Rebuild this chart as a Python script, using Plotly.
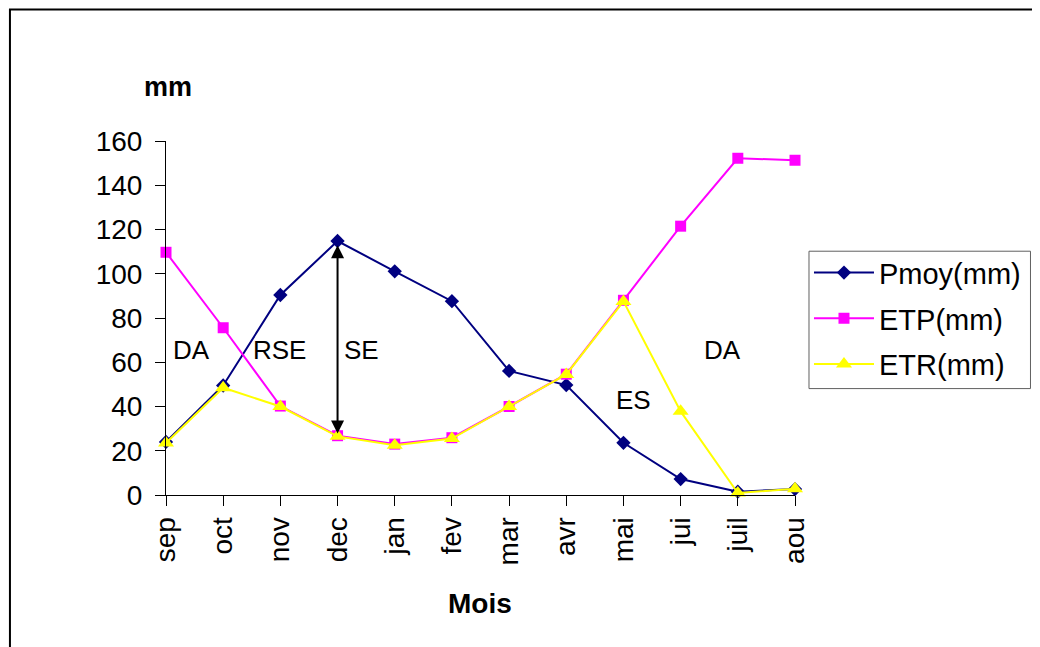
import plotly.graph_objects as go

months = ["sep", "oct", "nov", "dec", "jan", "fev", "mar", "avr", "mai", "jui", "juil", "aou"]
pmoy = [24, 49.5, 90.4, 114.8, 101.1, 87.6, 56.1, 49.7, 23.6, 7.2, 1.5, 2.7]
etp = [109.7, 75.6, 40.2, 26.8, 23, 25.9, 40, 54.6, 88, 121.5, 152.2, 151.3]
etr = [23.5, 48.5, 40, 26.5, 22.5, 25.5, 40, 54.5, 87.5, 37.8, 0.9, 2.8]

zone_labels = ["DA", "RSE", "SE", "ES", "DA"]
zone_x = [0.44, 1.99, 3.42, 8.18, 9.74]
zone_y = [65.5, 65.5, 65.5, 42.9, 65.5]

arrow_month = 3
arrow_top = 112.9
arrow_bottom = 27.1

FONT = "Liberation Sans, Arial, sans-serif"
OFF = 8  # default page body margin
W, H = 1040 - 2 * OFF, 647 - OFF
# screen pixels of the plot area
SX0, SX1, SY0, SY1 = 165.7, 795.3, 140.7, 495.0
L, R, T, B = SX0 - OFF, W - (SX1 - OFF), SY0 - OFF, H - (SY1 - OFF)


def px(sx):
    return (sx - SX0) / (SX1 - SX0)


def py(sy):
    return (SY1 - sy) / (SY1 - SY0)


xi = list(range(len(months)))

fig = go.Figure()
fig.add_trace(go.Scatter(
    x=xi, y=pmoy, name="Pmoy(mm)", mode="lines+markers", legendgroup="a",
    line=dict(color="#000080", width=2),
    marker=dict(symbol="diamond", size=11, color="#000080"), cliponaxis=False))
fig.add_trace(go.Scatter(
    x=xi, y=etp, name="ETP(mm)", mode="lines+markers", legendgroup="b",
    line=dict(color="#FF00FF", width=2),
    marker=dict(symbol="square", size=11, color="#FF00FF"), cliponaxis=False))
fig.add_trace(go.Scatter(
    x=xi, y=etr, name="ETR(mm)", mode="lines+markers", legendgroup="c",
    line=dict(color="#FFFF00", width=2),
    marker=dict(symbol="triangle-up", size=14, color="#FFFF00"), cliponaxis=False))

annotations = []
for t, x, y in zip(zone_labels, zone_x, zone_y):
    annotations.append(dict(x=x, y=y, xref="x", yref="y", text=t, showarrow=False,
                            xanchor="center", yanchor="middle",
                            font=dict(family=FONT, size=26, color="black")))
annotations.append(dict(x=arrow_month, y=arrow_top, ax=arrow_month, ay=arrow_bottom,
                        xref="x", yref="y", axref="x", ayref="y", text="",
                        showarrow=True, arrowhead=2, arrowside="end+start",
                        arrowsize=1.3, arrowwidth=2, arrowcolor="black"))
annotations.append(dict(x=px(168), y=py(87), xref="paper", yref="paper",
                        xanchor="center", yanchor="middle",
                        text="<b>mm</b>", showarrow=False,
                        font=dict(family=FONT, size=27, color="black")))
annotations.append(dict(x=px(479.5), y=py(604), xref="paper", yref="paper",
                        xanchor="center", yanchor="middle",
                        text="<b>Mois</b>", showarrow=False,
                        font=dict(family=FONT, size=28, color="black")))

shapes = [
    dict(type="rect", xref="paper", yref="paper",
         x0=px(9.5), x1=px(1050), y0=py(660), y1=py(9),
         line=dict(color="black", width=2), fillcolor="rgba(0,0,0,0)", layer="below"),
    # legend frame
    dict(type="rect", xref="paper", yref="paper",
         x0=px(809.3), x1=px(1031), y0=py(388.5), y1=py(251),
         line=dict(color="#606060", width=1), fillcolor="rgba(0,0,0,0)", layer="above"),
]

fig.update_layout(
    width=W, height=H,
    margin=dict(l=L, r=R, t=T, b=B, pad=0, autoexpand=False),
    paper_bgcolor="white", plot_bgcolor="white",
    font=dict(family=FONT, size=28, color="black"),
    showlegend=True,
    legend=dict(x=px(809.3), y=py(247), xanchor="left", yanchor="top",
                borderwidth=0, bgcolor="rgba(0,0,0,0)",
                font=dict(family=FONT, size=29, color="black"),
                tracegroupgap=5, itemwidth=60),
    annotations=annotations,
    shapes=shapes,
)
fig.update_xaxes(range=[0, 11], tickvals=xi, ticktext=months, tickangle=-90,
                 showline=True, linecolor="black", linewidth=1,
                 ticks="outside", ticklen=10, tickcolor="black",
                 showgrid=False, zeroline=False,
                 tickfont=dict(family=FONT, size=28, color="black"))
fig.update_yaxes(range=[0, 160], tickvals=[0, 20, 40, 60, 80, 100, 120, 140, 160],
                 showline=True, linecolor="black", linewidth=1,
                 ticks="outside", ticklen=10, tickcolor="black",
                 showgrid=False, zeroline=False, ticklabelstandoff=7,
                 tickfont=dict(family=FONT, size=28, color="black"))

fig.write_html("out.html")
